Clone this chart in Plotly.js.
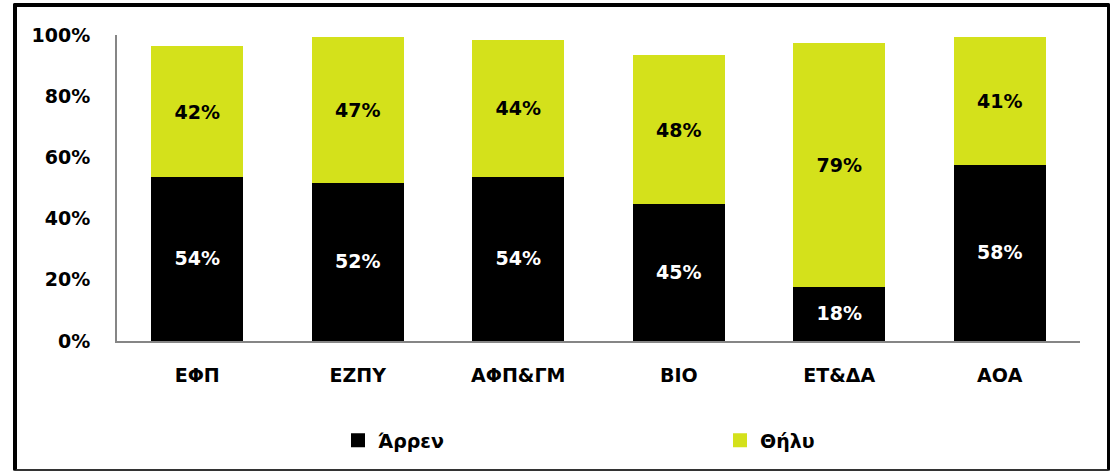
<!DOCTYPE html>
<html>
<head>
<meta charset="utf-8">
<script src="https://cdn.plot.ly/plotly-3.0.1.min.js"></script>
<style>
  html, body { margin: 0; padding: 0; background: #fff; }
  #wrap { position: relative; width: 1112px; height: 472px; }
  #chart { position: absolute; left: 0; top: 0; width: 1112px; height: 472px; }
  #frame { position: absolute; left: 13px; top: 3px; width: 1097px; height: 468px;
           box-sizing: border-box; border-style: solid; border-color: #000 #000 #333 #000;
           border-width: 4px 3px 2px 4px; border-radius: 2px; pointer-events: none; }
</style>
</head>
<body>
<div id="wrap">
  <div id="chart"></div>
  <div id="frame"></div>
</div>
<script>
const categories = ['ΕΦΠ', 'ΕΖΠΥ', 'ΑΦΠ&ΓΜ', 'ΒΙΟ', 'ΕΤ&ΔΑ', 'ΑΟΑ'];
const male = [54, 52, 54, 45, 18, 58];
const female = [42, 47, 44, 48, 79, 41];
const seriesNames = ['Άρρεν', 'Θήλυ'];
const yTickVals = [0, 20, 40, 60, 80, 100];
const yTickText = ['0%', '20%', '40%', '60%', '80%', '100%'];

const FONT = 'DejaVu Sans, sans-serif';
const GREEN = '#d4e11b';

const traces = [
  {
    type: 'bar', name: seriesNames[0], x: categories, y: male,
    marker: { color: '#000000', line: { color: '#000000', width: 2 } },
    texttemplate: '%{y}%', textposition: 'inside', insidetextanchor: 'middle',
    textangle: 0, constraintext: 'none',
    textfont: { family: FONT, size: 19, color: '#ffffff', weight: 'bold' },
    hoverinfo: 'none'
  },
  {
    type: 'bar', name: seriesNames[1], x: categories, y: female,
    marker: { color: GREEN, line: { color: GREEN, width: 2 } },
    texttemplate: '%{y}%', textposition: 'inside', insidetextanchor: 'middle',
    textangle: 0, constraintext: 'none',
    textfont: { family: FONT, size: 19, color: '#000000', weight: 'bold' },
    hoverinfo: 'none'
  }
];

const layout = {
  width: 1112, height: 472,
  margin: { l: 117, r: 32, t: 35, b: 131, pad: 0, autoexpand: false },
  paper_bgcolor: 'rgba(0,0,0,0)', plot_bgcolor: 'rgba(0,0,0,0)',
  barmode: 'stack', bargap: 0.44,
  font: { family: FONT, size: 19, color: '#000', weight: 'bold' },
  xaxis: {
    showline: true, linecolor: '#868686', linewidth: 2,
    ticks: '', ticklabelstandoff: 16,
    tickfont: { family: FONT, size: 19, color: '#000', weight: 'bold' },
    showgrid: false, zeroline: false, fixedrange: true
  },
  yaxis: {
    range: [0, 100], tickvals: yTickVals, ticktext: yTickText,
    showline: true, linecolor: '#868686', linewidth: 2,
    ticks: '', ticklabelstandoff: 21,
    tickfont: { family: FONT, size: 19, color: '#000', weight: 'bold' },
    showgrid: false, zeroline: false, fixedrange: true
  },
  showlegend: true,
  legend: {
    orientation: 'h', xref: 'paper', yref: 'paper',
    x: 0.2295, xanchor: 'left', y: -0.263, yanchor: 'top',
    entrywidth: 337, entrywidthmode: 'pixels',
    font: { family: FONT, size: 19, color: '#000', weight: 'bold' },
    bgcolor: 'rgba(0,0,0,0)', traceorder: 'normal'
  }
};

Plotly.newPlot('chart', traces, layout, { displayModeBar: false, staticPlot: true });
</script>
</body>
</html>
